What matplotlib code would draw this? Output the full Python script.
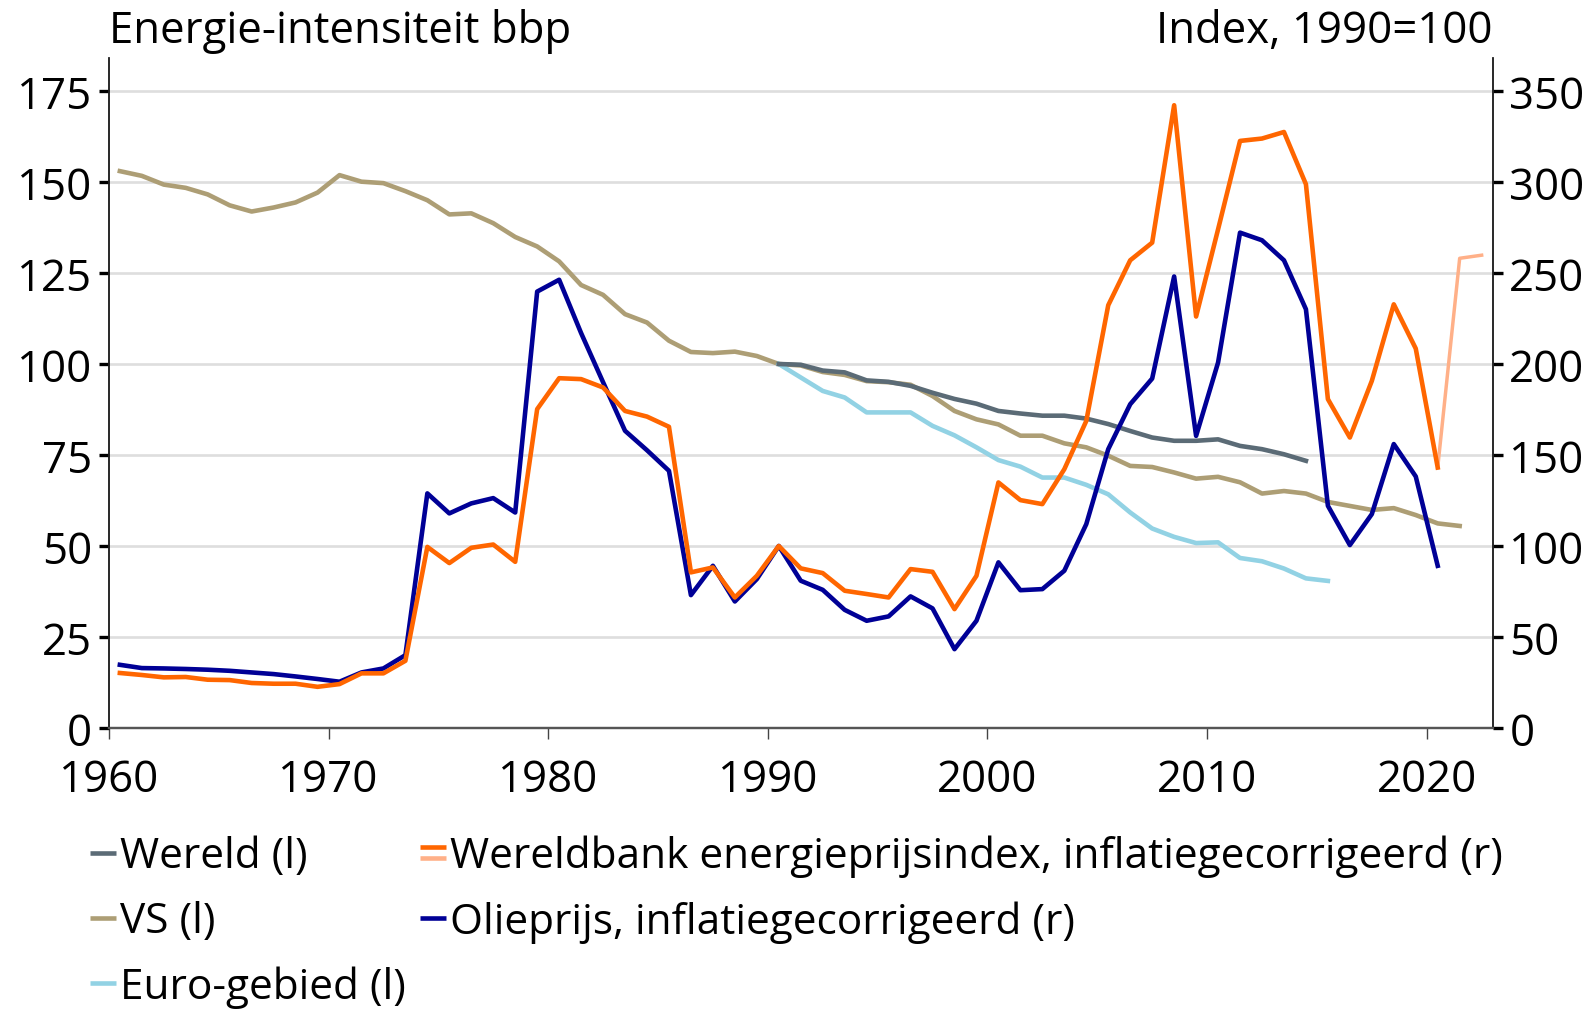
import numpy as np
import matplotlib
matplotlib.use("Agg")
import matplotlib.pyplot as plt
from matplotlib.lines import Line2D
from matplotlib.legend_handler import HandlerBase

plt.rcParams['font.family'] = ['Open Sans', 'DejaVu Sans']

# Energie-intensiteit bbp (linker as), index 1990=100
vs_years = np.arange(1960, 2022)
vs = [153.0, 151.7, 149.3, 148.4, 146.6, 143.6, 141.9, 143.0, 144.4, 147.1,
      151.9, 150.1, 149.7, 147.5, 145.0, 141.1, 141.4, 138.7, 134.9, 132.3,
      128.2, 121.7, 119.0, 113.7, 111.4, 106.4, 103.3, 103.0, 103.4, 102.2,
      100.0, 99.6, 97.8, 97.0, 95.3, 95.0, 94.3, 91.2, 87.1, 84.8,
      83.4, 80.3, 80.3, 78.2, 77.1, 74.8, 72.0, 71.7, 70.2, 68.5,
      69.0, 67.5, 64.4, 65.1, 64.4, 62.1, 61.0, 59.9, 60.4, 58.5,
      56.2, 55.5]

wereld_years = np.arange(1990, 2015)
wereld = [100.0, 99.8, 98.2, 97.7, 95.5, 95.1, 94.0, 92.1, 90.4, 89.1,
          87.1, 86.4, 85.8, 85.8, 85.0, 83.5, 81.6, 79.8, 78.9, 78.9,
          79.3, 77.5, 76.6, 75.2, 73.4]

euro_years = np.arange(1990, 2016)
euro = [100.0, 96.3, 92.6, 90.8, 86.7, 86.7, 86.7, 83.0, 80.4, 77.1,
        73.6, 71.8, 68.8, 68.8, 66.8, 64.2, 59.2, 54.8, 52.5, 50.8,
        51.0, 46.7, 45.8, 43.8, 41.1, 40.4]

# Prijzen (rechter as), index 1990=100
price_years = np.arange(1960, 2021)
oil = [34.7, 32.9, 32.7, 32.4, 32.0, 31.4, 30.5, 29.6, 28.3, 26.9,
       25.4, 30.5, 32.7, 40.0, 128.9, 117.9, 123.4, 126.3, 118.4, 239.8,
       246.3, 217.0, 190.0, 163.3, 152.6, 141.3, 73.0, 89.1, 69.5, 81.8,
       100.0, 80.9, 75.9, 64.9, 58.9, 61.3, 72.3, 65.7, 43.3, 58.9,
       91.0, 75.7, 76.3, 86.4, 112.0, 153.2, 177.9, 192.0, 248.1, 160.5,
       200.8, 272.2, 268.0, 257.0, 230.1, 122.1, 100.5, 117.5, 156.0, 138.2,
       89.1]
energy = [30.2, 29.1, 27.8, 28.0, 26.5, 26.3, 24.7, 24.3, 24.3, 22.6,
          24.1, 30.0, 30.0, 36.9, 99.5, 90.6, 99.0, 100.8, 91.3, 175.2,
          192.2, 191.7, 187.1, 174.2, 171.1, 165.5, 85.5, 88.2, 71.7, 83.6,
          100.0, 87.7, 85.1, 75.4, 73.6, 71.7, 87.3, 85.8, 65.3, 83.6,
          134.9, 125.2, 123.0, 142.2, 168.7, 232.3, 257.0, 266.7, 342.2, 226.1,
          274.0, 322.6, 323.9, 327.5, 298.8, 180.7, 159.6, 190.7, 232.8, 208.5,
          143.1]
energy_est_years = np.arange(2020, 2023)
energy_est = [143.1, 258.1, 259.8]

c_wereld = '#5b6b76'
c_vs = '#ad9e75'
c_euro = '#92d2e4'
c_energy = '#ff6600'
c_energy_est = '#ffb088'
c_oil = '#000096'

lw = 3.3
fs = 31.5
fs_leg = 30.5

fig = plt.figure(figsize=(15.94, 10.12), dpi=100)
ax = fig.add_axes([0.0683, 0.2797, 0.8681, 0.6617])
ax2 = ax.twinx()

# data op midden van het jaar
ax.plot(vs_years + 0.5, vs, color=c_vs, lw=lw, zorder=3)
ax.plot(euro_years + 0.5, euro, color=c_euro, lw=lw, zorder=3)
ax.plot(wereld_years + 0.5, wereld, color=c_wereld, lw=lw, zorder=4)
ax2.plot(price_years + 0.5, oil, color=c_oil, lw=lw, zorder=3)
ax2.plot(energy_est_years + 0.5, energy_est, color=c_energy_est, lw=2.5, zorder=3)
ax2.plot(price_years + 0.5, energy, color=c_energy, lw=lw, zorder=4)

ax.set_xlim(1960, 2023)
ax.set_ylim(0, 184)
ax2.set_ylim(0, 368)
ax.set_yticks(np.arange(0, 176, 25))
ax2.set_yticks(np.arange(0, 351, 50))
ax.set_xticks(np.arange(1960, 2021, 10))

ax.yaxis.grid(True, color='#dedede', lw=1.9)
ax.set_axisbelow(True)

for a in (ax, ax2):
    a.spines['top'].set_visible(False)
    a.spines['left'].set_color('#222222')
    a.spines['right'].set_color('#222222')
    a.spines['left'].set_linewidth(1.1)
    a.spines['right'].set_linewidth(1.1)
    a.spines['bottom'].set_color('#555555')
    a.spines['bottom'].set_linewidth(1.6)

ax.tick_params(axis='y', length=7, width=2.4, color='black', labelsize=fs, pad=5)
ax2.tick_params(axis='y', length=7, width=2.4, color='black', labelsize=fs, pad=5)
ax.tick_params(axis='x', length=8, width=1, color='#444444', labelsize=fs, pad=13)

fig.text(108.8 / 1594, 1 - 31.5 / 1012, 'Energie-intensiteit bbp', fontsize=fs,
         ha='left', va='center')
fig.text(1492 / 1594, 1 - 31.5 / 1012, 'Index, 1990=100', fontsize=fs,
         ha='right', va='center')


class TwoLineHandler(HandlerBase):
    def create_artists(self, legend, orig_handle, xdescent, ydescent,
                       width, height, fontsize, trans):
        mid = height / 2 - ydescent
        gap = 4
        l1 = Line2D([-xdescent, width - xdescent], [mid + gap, mid + gap],
                    color=c_energy, lw=lw, solid_capstyle='butt', transform=trans)
        l2 = Line2D([-xdescent, width - xdescent], [mid - gap, mid - gap],
                    color=c_energy_est, lw=lw, solid_capstyle='butt', transform=trans)
        return [l1, l2]


def h(c):
    return Line2D([], [], color=c, lw=lw, solid_capstyle='butt')


energy_handle = object()
handles = [h(c_wereld), h(c_vs), h(c_euro), energy_handle, h(c_oil)]
labels = ['Wereld (l)', 'VS (l)', 'Euro-gebied (l)',
          'Wereldbank energieprijsindex, inflatiegecorrigeerd (r)',
          'Olieprijs, inflatiegecorrigeerd (r)']
fig.legend(handles, labels, handler_map={energy_handle: TwoLineHandler()},
           loc='upper left', bbox_to_anchor=(90 / 1594, 1 - 836 / 1012),
           ncol=2, frameon=False, fontsize=fs_leg, handlelength=0.62,
           handletextpad=0.1, columnspacing=0.32, labelspacing=0.54,
           borderpad=0, borderaxespad=0)

fig.savefig('out.png', dpi=100)
